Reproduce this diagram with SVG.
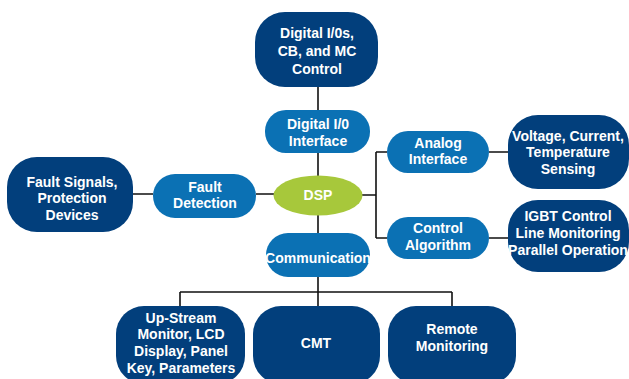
<svg xmlns="http://www.w3.org/2000/svg" width="629" height="379" viewBox="0 0 629 379">
<style>
.dark{fill:#023f7c}
.mid{fill:#0b71b4}
.dsp{fill:#a7c83b}
text{font-family:"Liberation Sans",Arial,sans-serif;font-weight:bold;font-size:14px;fill:#fff;text-anchor:middle}
.c{fill:none;stroke:#111;stroke-width:1.6}
</style>
<rect width="629" height="379" fill="#fff"/>
<g id="connectors">
<path class="c" d="M318 87V110M318 153V176M318 215V233"/>
<path class="c" d="M133 194H153M256 194H274"/>
<path class="c" d="M362 195H376M376 152V238M376 152H387M376 238H387"/>
<path class="c" d="M489 152H510M489 238H510"/>
<path class="c" d="M318 277V292M180 292H452M180 292V306M318 292V306M452 292V306"/>
</g>
<g id="digital-io-control"><rect class="dark" x="255" y="12" width="123" height="75" rx="30"/><text x="317" y="38">Digital I/0s,</text><text x="317" y="56">CB, and MC</text><text x="317" y="74">Control</text></g>
<g id="digital-io-interface"><rect class="mid" x="265" y="110" width="105" height="43" rx="21"/><text x="318" y="129">Digital I/0</text><text x="318" y="146">Interface</text></g>
<g id="dsp"><ellipse class="dsp" cx="318" cy="195.5" rx="44.5" ry="20"/><text x="318" y="200">DSP</text></g>
<g id="communication"><rect class="mid" x="266" y="233" width="104" height="44" rx="22"/><text x="318" y="263">Communication</text></g>
<g id="analog-interface"><rect class="mid" x="387" y="131" width="102" height="42" rx="21"/><text x="438" y="148">Analog</text><text x="438" y="164">Interface</text></g>
<g id="control-algorithm"><rect class="mid" x="387" y="217" width="102" height="42" rx="21"/><text x="438" y="233">Control</text><text x="438" y="250">Algorithm</text></g>
<g id="voltage-sensing"><rect class="dark" x="508" y="115" width="121" height="74" rx="30"/><text x="568" y="141">Voltage, Current,</text><text x="568" y="157">Temperature</text><text x="568" y="174">Sensing</text></g>
<g id="igbt-control"><rect class="dark" x="508" y="200" width="121" height="72" rx="30"/><text x="568" y="221">IGBT Control</text><text x="568" y="238">Line Monitoring</text><text x="568" y="255">Parallel Operation</text></g>
<g id="fault-signals"><rect class="dark" x="7" y="157" width="126" height="75" rx="30"/><text x="72" y="187">Fault Signals,</text><text x="72" y="203">Protection</text><text x="72" y="220">Devices</text></g>
<g id="fault-detection"><rect class="mid" x="153" y="174" width="103" height="44" rx="22"/><text x="205" y="192">Fault</text><text x="205" y="208">Detection</text></g>
<g id="up-stream"><rect class="dark" x="116" y="306" width="129" height="78" rx="28"/><text x="181" y="323">Up-Stream</text><text x="181" y="339">Monitor, LCD</text><text x="181" y="356">Display, Panel</text><text x="181" y="373">Key, Parameters</text></g>
<g id="cmt"><rect class="dark" x="253" y="306" width="127" height="78" rx="28"/><text x="316" y="348">CMT</text></g>
<g id="remote-monitoring"><rect class="dark" x="388" y="306" width="128" height="78" rx="28"/><text x="452" y="334">Remote</text><text x="452" y="351">Monitoring</text></g>
</svg>
